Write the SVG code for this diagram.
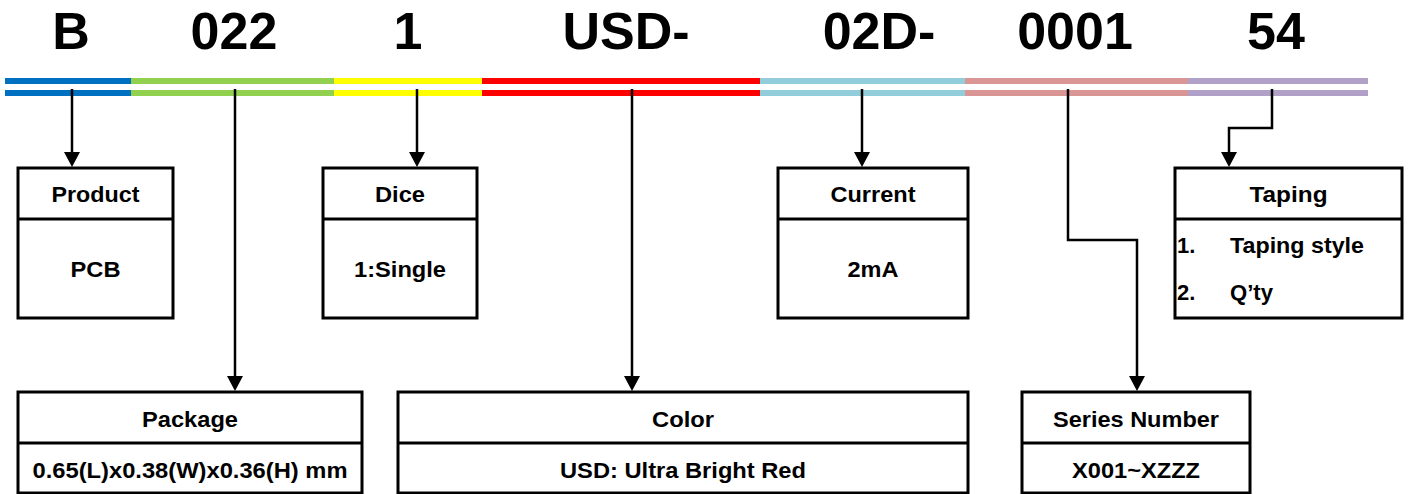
<svg xmlns="http://www.w3.org/2000/svg" width="1408" height="494" viewBox="0 0 1408 494">
<style>
.t{font-family:"Liberation Sans",Arial,sans-serif;font-weight:bold;fill:#000}
.title{font-size:52px;text-anchor:middle}
.lbl{font-size:22px;text-anchor:middle}
.lst{font-size:22px}
.box{fill:#fff;stroke:#000;stroke-width:3}
.div{stroke:#000;stroke-width:3}
.con{fill:none;stroke:#000;stroke-width:2.5}
.ah{fill:#000}
</style>
<rect width="1408" height="494" fill="#fff"/>
<g id="title">
<text class="t title" x="71" y="49">B</text>
<text class="t title" x="234" y="49">022</text>
<text class="t title" x="408" y="49">1</text>
<text class="t title" x="626" y="49">USD-</text>
<text class="t title" x="879" y="49">02D-</text>
<text class="t title" x="1075" y="49">0001</text>
<text class="t title" x="1276" y="49">54</text>
</g>
<g id="bars">
<rect x="5" y="78" width="126" height="6" fill="#0070C0"/>
<rect x="131" y="78" width="203" height="6" fill="#92D050"/>
<rect x="334" y="78" width="148" height="6" fill="#FFFF00"/>
<rect x="482" y="78" width="278" height="6" fill="#FF0000"/>
<rect x="760" y="78" width="205" height="6" fill="#92CDDC"/>
<rect x="965" y="78" width="223" height="6" fill="#DA9694"/>
<rect x="1188" y="78" width="180" height="6" fill="#B1A0C7"/>
<rect x="5" y="90" width="126" height="6" fill="#0070C0"/>
<rect x="131" y="90" width="203" height="6" fill="#92D050"/>
<rect x="334" y="90" width="148" height="6" fill="#FFFF00"/>
<rect x="482" y="90" width="278" height="6" fill="#FF0000"/>
<rect x="760" y="90" width="205" height="6" fill="#92CDDC"/>
<rect x="965" y="90" width="223" height="6" fill="#DA9694"/>
<rect x="1188" y="90" width="180" height="6" fill="#B1A0C7"/>
</g>
<g id="connectors">
<path class="con" d="M72,89 V154"/>
<path class="ah" d="M64,152 L80,152 L72,167 Z"/>
<path class="con" d="M235,89 V378"/>
<path class="ah" d="M227,376 L243,376 L235,391 Z"/>
<path class="con" d="M417,89 V154"/>
<path class="ah" d="M409,152 L425,152 L417,167 Z"/>
<path class="con" d="M632,89 V378"/>
<path class="ah" d="M624,376 L640,376 L632,391 Z"/>
<path class="con" d="M862,89 V154"/>
<path class="ah" d="M854,152 L870,152 L862,167 Z"/>
<path class="con" d="M1068,89 V240 H1137 V378"/>
<path class="ah" d="M1129,376 L1145,376 L1137,391 Z"/>
<path class="con" d="M1272,89 V128 H1229 V154"/>
<path class="ah" d="M1221,152 L1237,152 L1229,167 Z"/>
</g>
<g id="product">
<rect class="box" x="18" y="168" width="155" height="150"/>
<line class="div" x1="18" y1="219" x2="173" y2="219"/>
<text class="t lbl" x="95.5" y="202" textLength="88" lengthAdjust="spacingAndGlyphs">Product</text>
<text class="t lbl" x="95.5" y="277" textLength="50" lengthAdjust="spacingAndGlyphs">PCB</text>
</g>
<g id="dice">
<rect class="box" x="323" y="168" width="154" height="150"/>
<line class="div" x1="323" y1="219" x2="477" y2="219"/>
<text class="t lbl" x="400" y="202" textLength="50" lengthAdjust="spacingAndGlyphs">Dice</text>
<text class="t lbl" x="400" y="277" textLength="92" lengthAdjust="spacingAndGlyphs">1:Single</text>
</g>
<g id="current">
<rect class="box" x="778" y="168" width="190" height="150"/>
<line class="div" x1="778" y1="219" x2="968" y2="219"/>
<text class="t lbl" x="873" y="202" textLength="85" lengthAdjust="spacingAndGlyphs">Current</text>
<text class="t lbl" x="873" y="277" textLength="51" lengthAdjust="spacingAndGlyphs">2mA</text>
</g>
<g id="taping">
<rect class="box" x="1175" y="168" width="227" height="150"/>
<line class="div" x1="1175" y1="219" x2="1402" y2="219"/>
<text class="t lbl" x="1288.5" y="202" textLength="78" lengthAdjust="spacingAndGlyphs">Taping</text>
<text class="t lst" x="1177" y="253">1.</text>
<text class="t lst" x="1230" y="253" textLength="134" lengthAdjust="spacingAndGlyphs">Taping style</text>
<text class="t lst" x="1177" y="300">2.</text>
<text class="t lst" x="1230" y="300" textLength="43" lengthAdjust="spacingAndGlyphs">Q’ty</text>
</g>
<g id="package">
<rect class="box" x="18" y="392" width="344" height="101"/>
<line class="div" x1="18" y1="443" x2="362" y2="443"/>
<text class="t lbl" x="190" y="427" textLength="96" lengthAdjust="spacingAndGlyphs">Package</text>
<text class="t lbl" x="190" y="478" textLength="315" lengthAdjust="spacingAndGlyphs">0.65(L)x0.38(W)x0.36(H) mm</text>
</g>
<g id="color">
<rect class="box" x="398" y="392" width="570" height="101"/>
<line class="div" x1="398" y1="443" x2="968" y2="443"/>
<text class="t lbl" x="683" y="427" textLength="62" lengthAdjust="spacingAndGlyphs">Color</text>
<text class="t lbl" x="683" y="478" textLength="246" lengthAdjust="spacingAndGlyphs">USD: Ultra Bright Red</text>
</g>
<g id="series">
<rect class="box" x="1022" y="392" width="228" height="101"/>
<line class="div" x1="1022" y1="443" x2="1250" y2="443"/>
<text class="t lbl" x="1136" y="427" textLength="166" lengthAdjust="spacingAndGlyphs">Series Number</text>
<text class="t lbl" x="1136" y="478" textLength="128" lengthAdjust="spacingAndGlyphs">X001~XZZZ</text>
</g>
</svg>
